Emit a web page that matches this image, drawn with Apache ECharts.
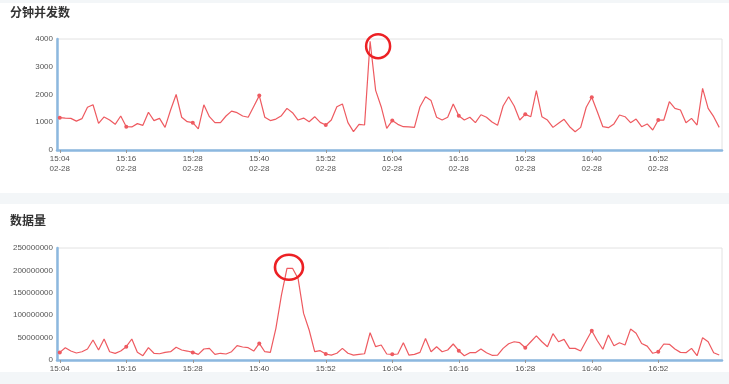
<!DOCTYPE html>
<html>
<head>
<meta charset="utf-8">
<script src="https://cdn.jsdelivr.net/npm/echarts@6/dist/echarts.min.js"></script>
<style>
html,body{margin:0;padding:0;width:729px;height:384px;background:#f3f6f8;overflow:hidden;font-family:"Noto Sans CJK SC","Liberation Sans",sans-serif;}
#c1{position:absolute;left:0;top:3px;width:729px;height:190px;background:#fff;}
#c2{position:absolute;left:0;top:204px;width:729px;height:168px;background:#fff;}
</style>
</head>
<body>
<div id="c1"></div>
<div id="c2"></div>
<script>
const titles = ['分钟并发数', '数据量'];
const dateLabel = '02-28';
const startHour = 15, startMinute = 4, pointCount = 120;
const times = [];
for (let i = 0; i < pointCount; i++) {
  const t = startHour * 60 + startMinute + i;
  times.push(String(Math.floor(t / 60)).padStart(2, '0') + ':' + String(t % 60).padStart(2, '0'));
}
const concurrency = [
  1164, 1150, 1140, 1040, 1130, 1540, 1630, 960, 1190, 1080,
  925, 1225, 840, 830, 950, 890, 1360, 1060, 1140, 815,
  1440, 2000, 1180, 1020, 985, 760, 1630, 1200, 985, 985,
  1225, 1400, 1345, 1225, 1180, 1570, 1960, 1180, 1060, 1115,
  1235, 1500, 1345, 1080, 1150, 1020, 1200, 995, 900, 1080,
  1560, 1660, 985, 660, 925, 900, 3920, 2150, 1560, 780,
  1060, 925, 840, 830, 815, 1560, 1920, 1780, 1180, 1080,
  1180, 1660, 1235, 1080, 1180, 985, 1270, 1180, 1010, 890,
  1585, 1920, 1585, 1080, 1285, 1200, 2140, 1200, 1080, 815,
  960, 1105, 840, 660, 815, 1540, 1900, 1380, 840, 805,
  940, 1260, 1200, 985, 1115, 840, 940, 720, 1080, 1080,
  1740, 1500, 1440, 985, 1140, 900, 2220, 1500, 1200, 815
];
const dataVolume = [
  17000000, 27500000, 20000000, 15600000, 18500000, 24500000, 44600000, 22300000, 46900000, 18500000,
  14900000, 20000000, 29700000, 46900000, 17200000, 9600000, 27500000, 15000000, 14000000, 17000000,
  18500000, 28300000, 22300000, 20000000, 17000000, 12700000, 24500000, 26000000, 12700000, 15000000,
  13400000, 18500000, 32000000, 29000000, 27500000, 20000000, 37000000, 18500000, 17000000, 70700000,
  145000000, 204700000, 204700000, 182000000, 104000000, 67000000, 18500000, 20800000, 13400000, 11000000,
  15000000, 26000000, 15000000, 11000000, 12700000, 14000000, 61000000, 29700000, 33500000, 13400000,
  12700000, 13400000, 38600000, 11000000, 12700000, 17000000, 48000000, 18500000, 29700000, 18500000,
  22300000, 35700000, 20800000, 9600000, 16300000, 16300000, 24500000, 16300000, 10500000, 11000000,
  26000000, 36400000, 40800000, 38600000, 27500000, 40800000, 54000000, 40800000, 29700000, 58700000,
  40800000, 46000000, 26000000, 26000000, 20000000, 43000000, 65400000, 43000000, 23900000, 55800000,
  32000000, 38600000, 33500000, 69000000, 59600000, 37000000, 31000000, 15000000, 18500000, 35700000,
  35000000, 24500000, 17000000, 16300000, 26000000, 9600000, 49800000, 40800000, 16300000, 11000000
];
const concurrencyTicks = [0, 1000, 2000, 3000, 4000];
const volumeTicks = [0, 50000000, 100000000, 150000000, 200000000, 250000000];

const lineColor = '#ee5a60';
const axisBlue = '#8cb8df';
const labelColor = '#555';

function makeOption(title, data, ticks, gridCfg, peakIndex, circleSize, circleOffset) {
  return {
    animation: false,
    title: {
      text: title, left: 10, top: gridCfg.titleTop, padding: 0,
      textStyle: { fontSize: 12, fontWeight: 'bold', color: '#333', fontFamily: '"Noto Sans CJK SC", sans-serif' }
    },
    grid: {
      left: 57, right: 7, top: gridCfg.top, bottom: gridCfg.bottom,
      outerBoundsMode: 'none', containLabel: false,
      show: true, borderColor: '#e2e2e2', borderWidth: 1, backgroundColor: 'transparent'
    },
    xAxis: {
      type: 'category', data: times, boundaryGap: true,
      axisLine: { lineStyle: { color: axisBlue, width: 2.5 } },
      axisTick: { show: true, interval: 11, alignWithLabel: true, length: 3, lineStyle: { color: '#999' } },
      axisLabel: {
        interval: 11, fontSize: 8, color: labelColor, lineHeight: 10, margin: 4,
        fontFamily: 'Liberation Sans, Arial, sans-serif',
        formatter: v => v + '\n' + dateLabel
      },
      splitLine: { show: false }
    },
    yAxis: {
      type: 'value', min: ticks[0], max: ticks[ticks.length - 1], interval: ticks[1] - ticks[0],
      axisLine: { show: true, lineStyle: { color: axisBlue, width: 2.5 } },
      axisTick: { show: false },
      axisLabel: {
        fontSize: 8, color: labelColor, margin: 4, fontFamily: 'Liberation Sans, Arial, sans-serif',
        formatter: v => String(v)
      },
      splitLine: { show: false }
    },
    series: [{
      type: 'line', data: data,
      symbol: 'circle', symbolSize: 4, showSymbol: true,
      itemStyle: { color: lineColor },
      lineStyle: { color: lineColor, width: 1.2 },
      markPoint: {
        symbol: 'circle', symbolSize: circleSize, symbolOffset: circleOffset,
        itemStyle: { color: 'rgba(0,0,0,0)', borderColor: '#ec2024', borderWidth: 2.5 },
        label: { show: false },
        data: [{ coord: [peakIndex, data[peakIndex]] }]
      }
    }]
  };
}

const c1 = echarts.init(document.getElementById('c1'));
c1.setOption(makeOption(titles[0], concurrency, concurrencyTicks,
  { titleTop: 3, top: 36, bottom: 43 }, 56, [24, 24], [8, 5]));
const c2 = echarts.init(document.getElementById('c2'));
c2.setOption(makeOption(titles[1], dataVolume, volumeTicks,
  { titleTop: 10, top: 44, bottom: 12 }, 41, [28, 25], [2, -1]));
</script>
</body>
</html>
